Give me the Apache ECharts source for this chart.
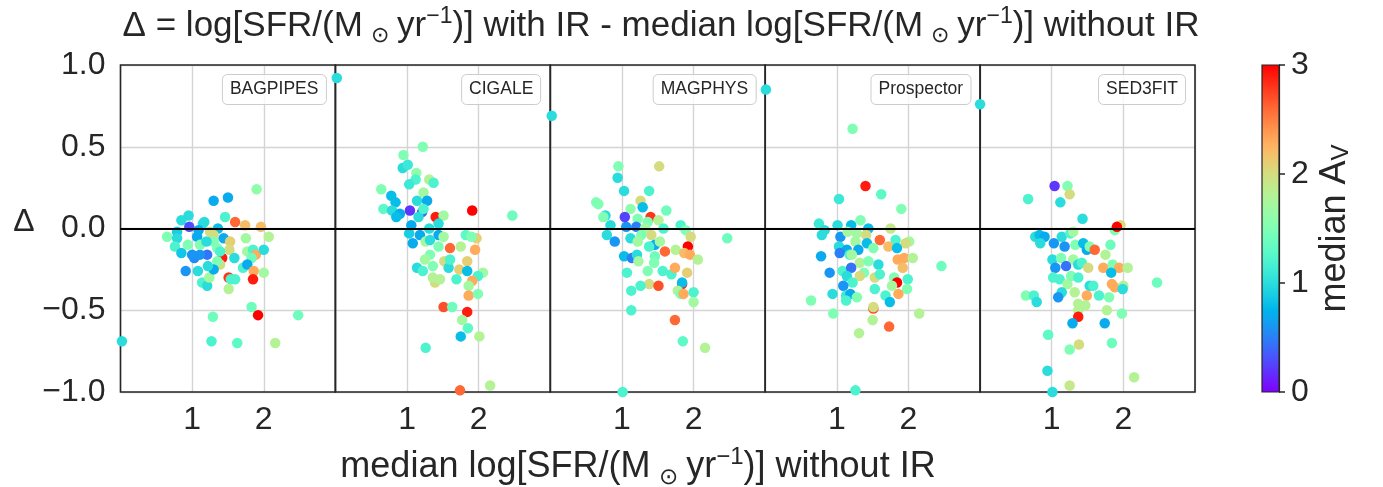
<!DOCTYPE html>
<html><head><meta charset="utf-8">
<script src="https://cdn.jsdelivr.net/npm/echarts@6/dist/echarts.min.js"></script>
<style>html,body{margin:0;padding:0;background:#fff}#c{width:1383px;height:487px}</style>
</head><body><div id="c"></div>
<script>
// panel names
const panelNames = ['BAGPIPES','CIGALE','MAGPHYS','Prospector','SED3FIT'];
// [median logSFR without IR, Delta, median A_V]
const bagpipes = [
[1.90,0.24,1.6],[1.30,0.17,0.7],[1.50,0.19,0.7],[0.95,0.08,1.0],[0.85,0.05,1.0],[1.46,0.07,1.2],[1.60,0.04,2.6],[1.74,0.02,2.2],[1.96,0.01,2.2],[2.07,-0.05,1.8],
[1.17,0.04,1.0],[1.36,0.00,0.8],[0.79,-0.02,0.9],[0.65,-0.05,1.5],[0.79,-0.06,1.0],[0.76,-0.11,1.2],[0.85,-0.15,0.85],[0.94,-0.10,1.5],[1.07,-0.05,0.7],
[1.21,-0.16,0.45],[1.03,-0.18,0.55],[1.11,-0.16,0.6],[0.91,-0.26,0.6],[1.08,-0.26,1.0],[1.14,-0.33,1.2],[1.21,-0.35,1.0],[1.24,-0.30,1.7],[1.11,-0.10,1.5],
[1.30,-0.04,2.0],[1.30,-0.08,1.5],[1.35,-0.12,1.5],[1.20,-0.08,1.0],[1.44,-0.06,0.7],[1.53,-0.08,2.1],[1.52,-0.13,2.0],[1.42,-0.18,2.9],[1.59,-0.18,1.0],
[1.39,-0.22,2.0],[1.35,-0.20,1.5],[1.30,-0.25,0.7],[1.22,-0.23,1.0],[1.75,-0.06,1.7],[1.77,-0.14,1.7],[1.85,-0.13,1.2],[1.89,-0.16,2.3],[2.00,-0.13,1.0],
[1.83,-0.18,1.4],[1.71,-0.24,1.2],[1.77,-0.22,0.7],[1.86,-0.26,2.3],[2.00,-0.27,1.7],[1.51,-0.30,2.8],[1.54,-0.31,1.2],[1.60,-0.31,1.2],[1.85,-0.31,2.9],
[1.51,-0.37,1.8],[1.83,-0.48,1.4],[1.92,-0.53,3.0],[2.48,-0.53,1.4],[1.29,-0.54,1.4],[1.27,-0.69,1.2],[1.63,-0.70,1.3],[2.16,-0.70,1.8],[0.02,-0.69,1.0],
[1.15,0.03,1.0],[1.25,-0.02,2.0],[1.09,-0.01,0.7],[1.00,-0.16,0.6],[1.39,-0.14,1.2],[0.96,0.01,0.3]
];
const cigale = [
[0.02,0.92,1.0],[1.22,0.50,1.5],[0.95,0.45,1.5],[0.94,0.37,1.0],[1.01,0.39,1.1],[1.13,0.34,1.6],[1.12,0.30,1.2],[1.03,0.27,1.1],[1.31,0.30,1.8],[1.37,0.28,1.2],
[1.23,0.22,1.7],[0.64,0.24,1.5],[0.78,0.20,0.8],[0.84,0.16,0.8],[0.67,0.12,1.3],[0.79,0.11,1.0],[0.90,0.09,0.7],[0.85,0.07,0.8],[1.14,0.17,1.0],
[1.28,0.17,0.7],[1.21,0.10,0.4],[1.16,0.07,1.0],[1.23,0.12,1.2],[1.40,0.07,2.9],[1.51,0.08,1.7],[1.91,0.11,3.0],[2.47,0.08,1.4],[1.06,0.02,0.7],
[1.31,0.00,1.0],[1.44,0.03,1.0],[1.03,-0.03,0.9],[1.18,-0.04,0.7],[1.08,-0.09,0.7],[1.44,-0.04,0.7],[1.51,-0.05,1.7],[1.26,-0.08,1.7],[1.32,-0.07,1.0],
[1.44,-0.11,1.5],[1.60,-0.12,2.6],[1.82,-0.04,1.3],[1.97,-0.06,2.1],[1.90,-0.05,1.5],[1.75,-0.11,1.8],[1.95,-0.13,2.3],[1.32,-0.16,1.5],[1.25,-0.19,1.7],
[1.36,-0.23,1.5],[1.52,-0.20,2.0],[1.58,-0.24,1.0],[1.60,-0.19,1.2],[1.14,-0.24,1.0],[1.22,-0.26,1.2],[1.84,-0.20,2.1],[1.73,-0.25,2.1],[1.84,-0.26,0.8],
[2.06,-0.27,1.7],[1.99,-0.29,1.2],[1.69,-0.31,1.2],[1.91,-0.32,2.3],[1.39,-0.33,2.0],[1.36,-0.30,1.8],[1.46,-0.31,1.8],[1.86,-0.35,1.7],[1.86,-0.41,2.3],
[1.99,-0.40,1.5],[1.51,-0.48,2.7],[1.63,-0.48,1.4],[1.84,-0.51,2.9],[1.77,-0.56,1.7],[1.85,-0.61,1.3],[1.75,-0.66,0.8],[2.01,-0.66,1.8],[1.26,-0.73,1.2],
[1.74,-0.99,2.6],[2.16,-0.96,1.8],[1.04,0.11,0.2]
];
const magphys = [
[0.02,0.69,1.0],[0.95,0.38,1.5],[1.52,0.38,2.0],[0.94,0.31,1.0],[1.03,0.23,1.0],[1.38,0.23,1.2],[0.64,0.16,1.5],[0.67,0.15,1.5],[1.26,0.17,2.0],[1.29,0.13,0.8],
[1.12,0.12,1.6],[1.62,0.11,1.4],[0.77,0.08,1.0],[0.74,0.07,1.5],[1.40,0.07,2.8],[1.51,0.05,1.8],[1.36,0.04,1.5],[1.22,0.06,1.5],[0.84,0.02,1.0],
[1.06,0.01,0.6],[1.20,0.01,0.5],[1.32,0.00,1.7],[1.58,0.00,1.2],[1.82,0.02,1.2],[1.89,-0.01,1.5],[1.96,-0.05,2.0],[2.47,-0.06,1.4],[0.79,-0.04,1.0],
[0.90,-0.08,0.6],[1.12,-0.06,1.0],[1.27,-0.04,1.5],[1.41,-0.04,2.0],[1.46,-0.10,0.7],[1.38,-0.11,1.2],[1.22,-0.08,1.7],[1.53,-0.08,1.7],[1.92,-0.11,3.0],
[1.75,-0.13,1.8],[1.60,-0.14,2.6],[1.87,-0.15,2.2],[1.95,-0.16,2.3],[2.06,-0.19,1.8],[1.03,-0.17,0.8],[1.14,-0.18,0.5],[1.21,-0.16,1.0],[1.23,-0.20,1.7],
[1.46,-0.17,1.4],[1.45,-0.21,1.5],[1.36,-0.26,1.5],[1.57,-0.26,1.2],[1.69,-0.28,1.2],[1.74,-0.24,2.3],[1.91,-0.27,2.1],[1.84,-0.34,2.9],[1.84,-0.33,0.8],
[1.07,-0.27,1.2],[1.38,-0.34,2.0],[1.51,-0.35,2.7],[1.26,-0.35,1.2],[1.13,-0.38,1.2],[1.78,-0.38,1.8],[1.82,-0.40,1.5],[1.86,-0.40,2.3],[2.00,-0.39,1.2],
[2.00,-0.45,1.7],[1.13,-0.50,1.2],[1.74,-0.56,2.6],[1.85,-0.69,1.3],[2.16,-0.73,1.8],[1.01,-1.00,1.2],[1.04,0.07,0.25]
];
const prospector = [
[0.01,0.85,1.0],[1.22,0.61,1.5],[1.40,0.26,2.9],[1.62,0.21,1.3],[1.03,0.18,1.1],[1.90,0.12,1.5],[1.33,0.05,1.5],[1.75,0.00,1.9],[0.75,0.03,1.1],[0.83,-0.01,1.0],
[0.79,-0.04,1.0],[1.01,0.02,1.0],[1.20,0.02,0.8],[1.44,0.00,0.8],[1.05,-0.05,0.6],[1.28,-0.03,1.7],[1.41,-0.04,2.0],[1.15,-0.02,1.7],[1.42,-0.09,0.8],
[1.26,-0.08,1.7],[1.60,-0.07,2.6],[1.82,-0.07,1.2],[2.01,-0.08,1.7],[1.96,-0.09,2.0],[1.72,-0.11,2.2],[1.84,-0.12,0.8],[1.51,-0.12,1.5],[1.03,-0.11,1.0],
[1.14,-0.13,0.7],[1.04,-0.15,0.5],[1.30,-0.13,0.7],[0.78,-0.17,0.7],[1.18,-0.16,1.2],[1.21,-0.16,1.7],[1.32,-0.21,1.8],[1.44,-0.20,1.5],[1.85,-0.19,2.3],
[1.94,-0.18,2.3],[2.06,-0.18,1.8],[1.92,-0.24,2.2],[1.58,-0.22,1.0],[2.46,-0.23,1.4],[0.90,-0.27,0.6],[1.08,-0.26,1.2],[1.20,-0.24,0.45],[1.14,-0.29,1.0],
[1.38,-0.27,1.5],[1.32,-0.29,2.0],[1.53,-0.30,2.0],[1.60,-0.28,1.2],[1.80,-0.30,1.5],[1.84,-0.33,3.0],[1.99,-0.31,1.2],[1.22,-0.33,1.2],[1.09,-0.35,0.6],
[1.77,-0.35,1.7],[1.53,-0.37,1.2],[1.98,-0.37,1.5],[0.94,-0.40,1.0],[1.13,-0.41,1.1],[1.19,-0.40,0.7],[1.28,-0.42,1.5],[1.68,-0.41,1.2],[1.86,-0.40,2.3],
[1.13,-0.44,1.2],[1.74,-0.45,0.8],[0.64,-0.44,1.5],[1.51,-0.49,2.7],[1.51,-0.48,2.0],[0.95,-0.52,1.5],[2.15,-0.52,1.8],[1.50,-0.56,1.8],[1.73,-0.60,2.6],
[1.31,-0.64,1.8],[1.26,-0.99,1.2]
];
const sed3fit = [
[0.00,0.76,1.0],[1.04,0.26,0.2],[1.22,0.26,1.5],[1.25,0.21,2.0],[0.67,0.18,1.2],[1.12,0.16,1.0],[1.43,0.06,1.0],[1.96,0.02,2.0],[1.88,-0.01,1.5],[1.91,0.01,3.0],
[0.77,-0.05,1.0],[0.83,-0.04,0.8],[0.90,-0.05,0.7],[0.84,-0.09,1.0],[1.03,-0.09,0.6],[1.14,-0.05,1.0],[1.26,-0.03,1.2],[1.30,-0.02,1.7],[1.18,-0.11,0.6],
[1.33,-0.10,1.5],[1.44,-0.09,0.8],[1.49,-0.13,0.7],[1.53,-0.11,1.5],[1.60,-0.13,2.6],[1.82,-0.10,1.4],[1.75,-0.16,1.8],[1.01,-0.19,1.0],[1.13,-0.18,1.5],
[1.30,-0.19,1.7],[1.05,-0.24,0.6],[1.20,-0.23,0.45],[1.37,-0.22,1.0],[1.42,-0.21,1.2],[1.51,-0.24,2.0],[1.72,-0.24,2.3],[1.85,-0.22,1.5],[1.94,-0.24,2.3],
[2.06,-0.24,1.8],[1.83,-0.27,0.8],[2.47,-0.33,1.4],[1.02,-0.30,1.2],[1.11,-0.31,1.2],[1.22,-0.34,1.7],[1.27,-0.29,1.5],[1.37,-0.30,1.2],[1.84,-0.34,2.3],
[1.88,-0.36,2.3],[2.00,-0.35,1.8],[1.99,-0.37,1.0],[1.53,-0.35,1.0],[1.58,-0.35,1.2],[1.14,-0.39,1.0],[0.64,-0.41,1.5],[0.75,-0.41,1.2],[0.79,-0.45,1.0],
[1.09,-0.42,0.6],[1.32,-0.39,1.8],[1.49,-0.41,2.3],[1.66,-0.41,1.2],[1.80,-0.42,1.5],[1.37,-0.46,1.8],[1.47,-0.47,1.8],[1.37,-0.50,1.8],[1.77,-0.50,1.8],
[1.98,-0.52,1.5],[1.37,-0.54,2.9],[1.29,-0.58,0.7],[1.74,-0.58,0.7],[0.95,-0.65,1.3],[1.84,-0.70,1.4],[1.38,-0.71,2.0],[1.25,-0.74,1.5],[0.94,-0.87,1.0],
[2.15,-0.91,1.8],[1.25,-0.96,1.9],[1.01,-1.00,1.0]
];
const panels = [bagpipes, cigale, magphys, prospector, sed3fit];
const xTicks = [1, 2];
const yTicks = [-1.0, -0.5, 0.0, 0.5, 1.0];
const cbTicks = [0, 1, 2, 3];

// matplotlib 'rainbow' colormap
function rainbow(t){
  const c = v => Math.round(Math.max(0, Math.min(1, v)) * 255);
  return 'rgb(' + c(Math.abs(2*t-0.5)) + ',' + c(Math.sin(Math.PI*t)) + ',' + c(Math.cos(Math.PI*t/2)) + ')';
}
const NSTOP = 40;
const cmap = [];
for (let i = 0; i <= NSTOP; i++) cmap.push(rainbow(i/NSTOP));
const cbStops = cmap.map((col, i) => ({offset: 1 - i/NSTOP, color: col})).reverse();

const FONT = "'Liberation Sans', Arial, sans-serif";
const TXT = '#262626';
const L0 = 120.5, PW = 214.9, TOP = 65, H = 327;
const TICKFS = 32;

const grids = [], xAxes = [], yAxes = [], series = [], titles = [];
panels.forEach((data, k) => {
  grids.push({left: L0 + PW*k, top: TOP, width: PW, height: H, show: true, z: 1,
    borderColor: '#262626', borderWidth: 1.6, backgroundColor: 'transparent'});
  xAxes.push({gridIndex: k, type: 'value', min: 0, max: 3, interval: 1,
    axisLine: {show: false}, axisTick: {show: false},
    axisLabel: {fontSize: TICKFS, fontFamily: FONT, color: TXT, margin: 12,
      formatter: v => xTicks.includes(v) ? String(v) : ''},
    splitLine: {show: true, lineStyle: {color: '#d4d4d4', width: 1.4}}});
  yAxes.push({gridIndex: k, type: 'value', min: -1, max: 1, interval: 0.5,
    axisLine: {show: false}, axisTick: {show: false},
    axisLabel: {show: k === 0, fontSize: TICKFS, fontFamily: FONT, color: TXT, margin: 15,
      formatter: v => yTicks.includes(v) ? v.toFixed(1).replace('-', '\u2212') : ''},
    splitLine: {show: true, lineStyle: {color: '#d4d4d4', width: 1.4}}});
  series.push({type: 'scatter', xAxisIndex: k, yAxisIndex: k, data: data,
    symbolSize: 10.5, clip: false, z: 2, itemStyle: {opacity: 1},
    markLine: {silent: true, symbol: 'none', z: 6, label: {show: false},
      lineStyle: {color: '#000', width: 2, type: 'solid'}, data: [{yAxis: 0}]}});
  const boxRight = L0 + PW*(k+1) - 9;
  titles.push({text: panelNames[k], right: 1383 - boxRight, top: 74,
    borderColor: '#cccccc', borderWidth: 1, borderRadius: 5, padding: [5, 8],
    backgroundColor: 'rgba(255,255,255,0.8)',
    textStyle: {fontSize: 17.5, fontWeight: 'normal', fontFamily: FONT, color: TXT, lineHeight: 21}});
});

// colorbar grid
grids.push({left: 1262, top: TOP, width: 17, height: H, show: true, z: 3,
  borderColor: '#262626', borderWidth: 1.2, backgroundColor: 'transparent'});
xAxes.push({gridIndex: 5, type: 'category', data: ['cb'], show: false});
yAxes.push({gridIndex: 5, type: 'value', min: 0, max: 3, interval: 1, position: 'right',
  axisLine: {show: true, lineStyle: {color: '#262626', width: 1.2}},
  axisTick: {show: true, length: 6, lineStyle: {color: '#262626', width: 1.5}},
  axisLabel: {fontSize: TICKFS, fontFamily: FONT, color: TXT, margin: 12,
    formatter: v => cbTicks.includes(v) ? String(v) : ''},
  splitLine: {show: false},
  name: 'median A{sub|V}', nameLocation: 'middle', nameGap: 38, nameRotate: 90,
  nameTextStyle: {fontSize: 36, fontFamily: FONT, color: TXT,
    rich: {sub: {fontSize: 24, fontFamily: FONT, color: TXT, verticalAlign: 'bottom', lineHeight: 24}}}});
series.push({type: 'bar', xAxisIndex: 5, yAxisIndex: 5, data: [3], barWidth: '100%', silent: true,
  itemStyle: {color: new echarts.graphic.LinearGradient(0, 0, 0, 1, cbStops)}});

function richFor(fs){
  const s = Math.round(fs * 0.64);
  return {
    sub: {fontSize: s, fontFamily: FONT, color: TXT, verticalAlign: 'bottom', lineHeight: s + 1, padding: [0, 2]},
    sup: {fontSize: s + 1, fontFamily: FONT, color: TXT, verticalAlign: 'top', lineHeight: s + 1}
  };
}
titles.push({text: '\u0394 = log[SFR/(M{sub| \u2299 }yr{sup|\u22121})] with IR - median log[SFR/(M{sub| \u2299 }yr{sup|\u22121})] without IR',
  left: 656, top: 0, textAlign: 'center',
  textStyle: {fontSize: 35, fontWeight: 'normal', fontFamily: FONT, color: TXT, lineHeight: 42, rich: richFor(35)}});
titles.push({text: 'median log[SFR/(M{sub| \u2299 }yr{sup|\u22121})] without IR',
  left: 633, top: 440, textAlign: 'center',
  textStyle: {fontSize: 36, fontWeight: 'normal', fontFamily: FONT, color: TXT, lineHeight: 44, rich: richFor(36)}});
titles.push({text: '\u0394', left: 19, top: 201, textAlign: 'center',
  textStyle: {fontSize: TICKFS, fontWeight: 'normal', fontFamily: FONT, color: TXT}});

const chart = echarts.init(document.getElementById('c'), null, {renderer: 'canvas'});
chart.setOption({
  animation: false,
  backgroundColor: '#fff',
  title: titles,
  grid: grids,
  xAxis: xAxes,
  yAxis: yAxes,
  visualMap: {type: 'continuous', show: false, min: 0, max: 3, dimension: 2,
    seriesIndex: [0,1,2,3,4], inRange: {color: cmap}},
  series: series
});
</script></body></html>
